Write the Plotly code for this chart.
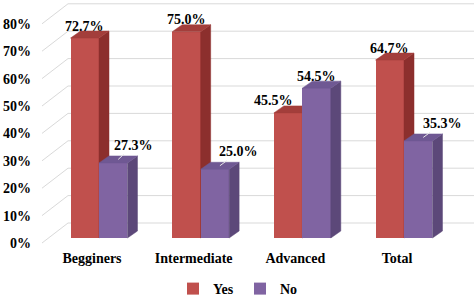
import plotly.graph_objects as go

# ---------------- data ----------------
categories = ["Begginers", "Intermediate", "Advanced", "Total"]
yes_values = [72.7, 75.0, 45.5, 64.7]
no_values = [27.3, 25.0, 54.5, 35.3]
series_names = ["Yes", "No"]
tick_values = [0, 10, 20, 30, 40, 50, 60, 70, 80]
tick_labels = [f"{v}%" for v in tick_values]

# ---------------- style / geometry ----------------
W, H = 474, 296
ML, MR, MT, MB = 32, 0, 0, 48
FONT = "Liberation Serif"
YES_COLORS = ("#C0504D", "#8C2F2D", "#A33E3B")   # front, side, top
NO_COLORS = ("#8064A2", "#5C4879", "#6F5893")
GRID = "#D9D9D9"

CAT_PX = 101.67          # pixels between categories
BAR_ORIGIN_PX = 99       # pixel x of first category (bar plane)
LABEL_ORIGIN_PX = 92     # pixel x of first category label (front plane)
BAR_ZERO_PX, BAR_SCALE = 238, 2.75
FRONT_ZERO_PX, FRONT_SCALE = 243, 2.74
BACK_ZERO_PX = 223
WALL_FRONT_PX, WALL_BACK_PX = 42, 68
BAR_W = 0.28
DDX = 10 / CAT_PX
DDY = 7 / BAR_SCALE

plot_h = H - MT - MB


def x_range(origin):
    return [(ML - origin) / CAT_PX, (W - MR - origin) / CAT_PX]


def y_range(zero, scale):
    return [(zero - (MT + plot_h)) / scale, (zero - MT) / scale]


def px_to_bar_y(py):
    return (BAR_ZERO_PX - py) / BAR_SCALE


def px_to_bar_x(px):
    return (px - BAR_ORIGIN_PX) / CAT_PX


fig = go.Figure()


def add_series(values, name, colors, offset, yaxis):
    xs = [i + offset for i in range(len(values))]
    fig.add_trace(go.Bar(x=xs, y=values, width=BAR_W, name=name,
                         marker=dict(color=colors[0], line=dict(width=0)),
                         xaxis="x", yaxis=yaxis))
    sx, sy, tx, ty = [], [], [], []
    for xc, v in zip(xs, values):
        x0, x1 = xc - BAR_W / 2, xc + BAR_W / 2
        sx += [x1, x1 + DDX, x1 + DDX, x1, x1, None]
        sy += [0, DDY, v + DDY, v, 0, None]
        tx += [x0, x0 + DDX, x1 + DDX, x1, x0, None]
        ty += [v, v + DDY, v + DDY, v, v, None]
    fig.add_trace(go.Scatter(x=sx, y=sy, fill="toself", fillcolor=colors[1], mode="lines",
                             line=dict(color=colors[1], width=0.5), showlegend=False,
                             hoverinfo="skip", xaxis="x", yaxis=yaxis))
    fig.add_trace(go.Scatter(x=tx, y=ty, fill="toself", fillcolor=colors[2], mode="lines",
                             line=dict(color=colors[2], width=0.5), showlegend=False,
                             hoverinfo="skip", xaxis="x", yaxis=yaxis))
    return xs


yes_x = add_series(yes_values, series_names[0], YES_COLORS, -BAR_W / 2, "y")
no_x = add_series(no_values, series_names[1], NO_COLORS, BAR_W / 2, "y2")

# dummy trace for the front-plane label axes
fig.add_trace(go.Scatter(x=[None], y=[None], xaxis="x2", yaxis="y3", showlegend=False,
                         hoverinfo="skip"))

# back wall gridlines and side-wall diagonals
shapes = []
xr = x_range(BAR_ORIGIN_PX)
for v in tick_values:
    yb = px_to_bar_y(BACK_ZERO_PX - FRONT_SCALE * v)
    yf = px_to_bar_y(FRONT_ZERO_PX - FRONT_SCALE * v)
    shapes.append(dict(type="line", xref="x", yref="y", layer="below",
                       x0=px_to_bar_x(WALL_BACK_PX), x1=xr[1], y0=yb, y1=yb,
                       line=dict(color=GRID, width=1)))
    shapes.append(dict(type="line", xref="x", yref="y", layer="below",
                       x0=px_to_bar_x(WALL_FRONT_PX), x1=px_to_bar_x(WALL_BACK_PX), y0=yf, y1=yb,
                       line=dict(color=GRID, width=1)))

# data labels
LABEL_DX_YES = [0, 0, -15, 0]
LABEL_DX_NO = [15, 19, 0, 19]
label_font = dict(family=FONT, size=14, color="black", weight="bold")
annotations = []
for xs, vals, dxs in ((yes_x, yes_values, LABEL_DX_YES), (no_x, no_values, LABEL_DX_NO)):
    for xc, v, dx in zip(xs, vals, dxs):
        if dx > 0:
            annotations.append(dict(x=xc + DDX / 2, y=v + DDY / 2, xref="x", yref="y",
                                    text=f"{v:.1f}%", showarrow=True, arrowhead=0,
                                    arrowwidth=1, arrowcolor="#E6E6E6", ax=dx, ay=-14,
                                    axref="pixel", ayref="pixel", standoff=0,
                                    font=label_font))
        else:
            annotations.append(dict(x=xc, y=v, xref="x", yref="y", text=f"{v:.1f}%",
                                    showarrow=False, xshift=dx, yshift=12, font=label_font))

tickfont = dict(family=FONT, size=14, color="black", weight="bold")
fig.update_layout(
    width=W, height=H,
    margin=dict(l=ML, r=MR, t=MT, b=MB, autoexpand=False),
    paper_bgcolor="white", plot_bgcolor="white",
    bargap=0, barmode="overlay",
    showlegend=True,
    legend=dict(orientation="h", x=(240 - ML) / (W - ML - MR), xanchor="center",
                y=-41 / plot_h, yanchor="middle", itemwidth=30, entrywidth=22,
                font=dict(family=FONT, size=14, color="black", weight="bold"),
                bgcolor="rgba(0,0,0,0)"),
    xaxis=dict(range=xr, visible=False, fixedrange=True, automargin=False),
    yaxis=dict(range=y_range(BAR_ZERO_PX, BAR_SCALE), visible=False, fixedrange=True,
               automargin=False),
    yaxis2=dict(range=y_range(BAR_ZERO_PX, BAR_SCALE), overlaying="y", visible=False,
                automargin=False),
    xaxis2=dict(range=x_range(LABEL_ORIGIN_PX), overlaying="x", anchor="y3", side="bottom",
                tickmode="array", tickvals=list(range(len(categories))), ticktext=categories,
                showgrid=False, zeroline=False, showline=False, ticks="", tickfont=tickfont,
                automargin=False),
    yaxis3=dict(range=y_range(FRONT_ZERO_PX, FRONT_SCALE), overlaying="y", anchor="x2", side="left",
                tickmode="array", tickvals=tick_values, ticktext=tick_labels,
                showgrid=False, zeroline=False, showline=False, ticks="", tickfont=tickfont,
                automargin=False),
    shapes=shapes,
    annotations=annotations,
    font=dict(family=FONT),
)

fig.write_html("out.html", config={"displayModeBar": False},
               post_script="document.body.style.margin='0px';")
